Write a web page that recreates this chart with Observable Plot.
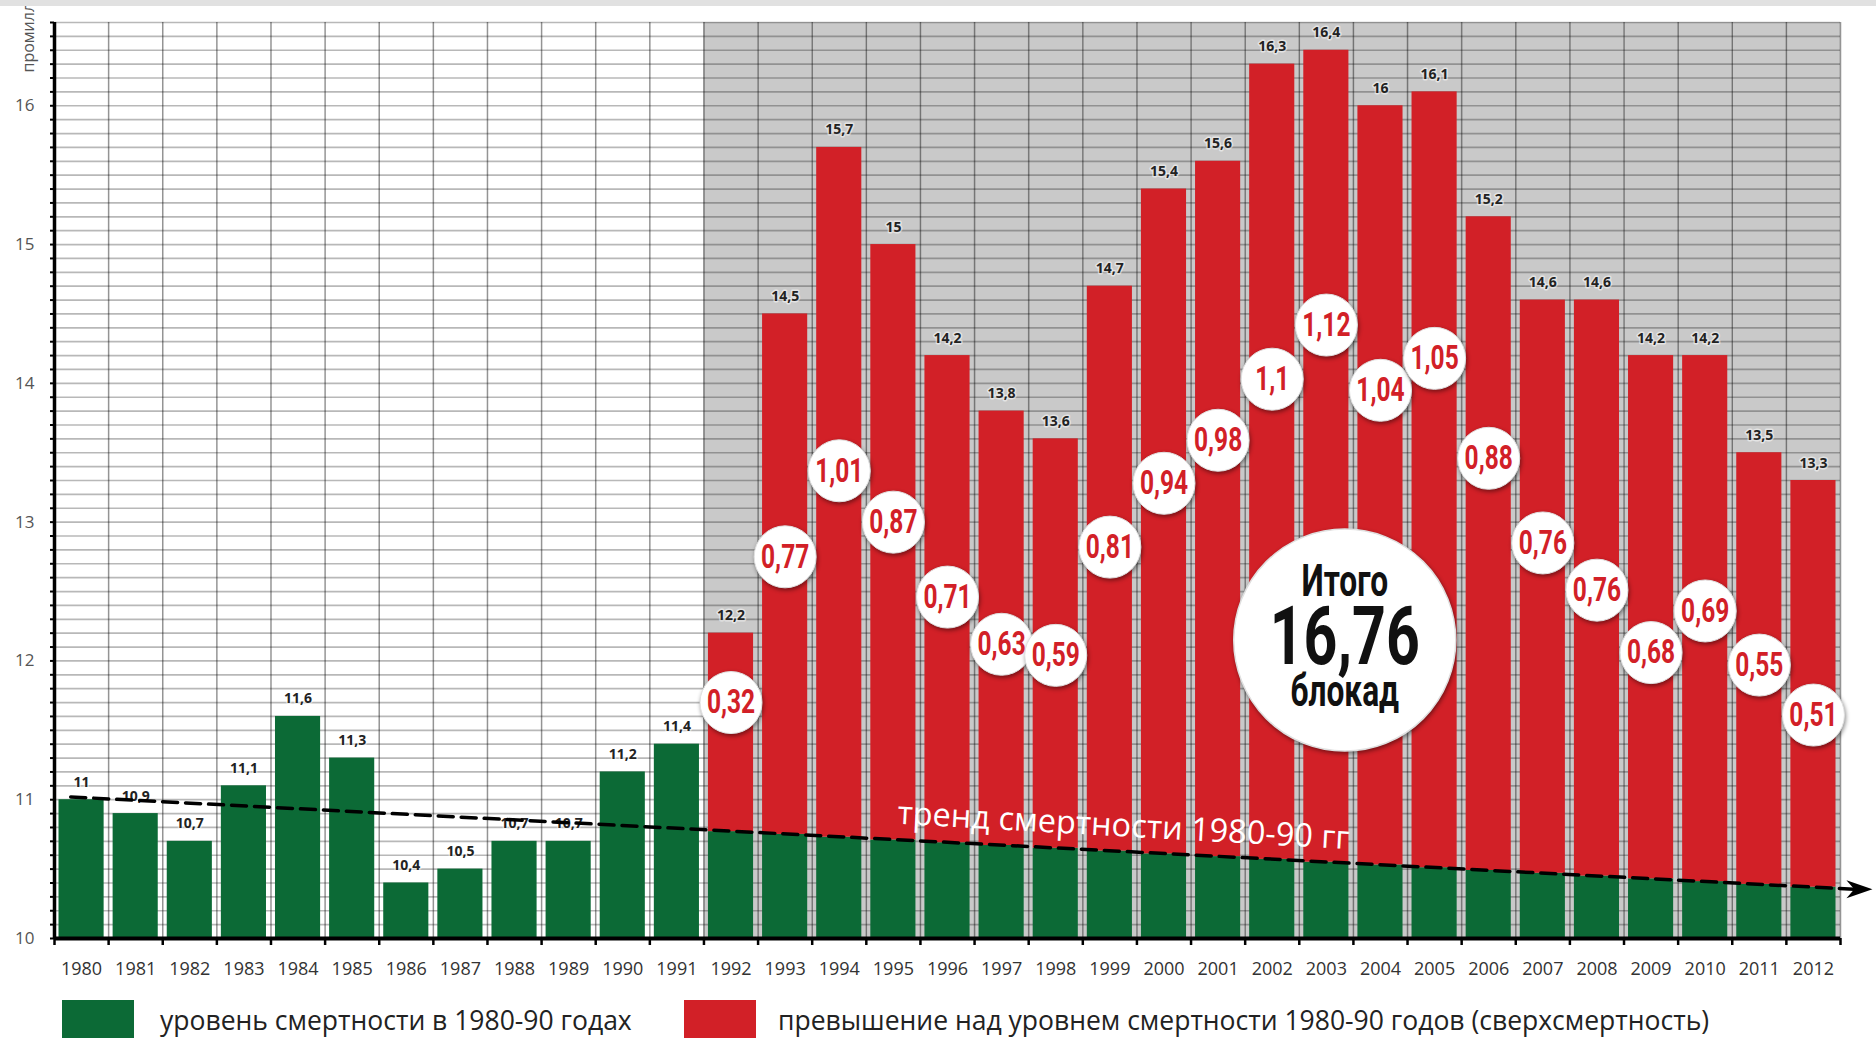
<!DOCTYPE html>
<html>
<head>
<meta charset="utf-8">
<script src="https://cdn.jsdelivr.net/npm/d3@7"></script>
<script src="https://cdn.jsdelivr.net/npm/@observablehq/plot@0.6"></script>
<style>
  html, body { margin: 0; padding: 0; background: #fff; width: 1876px; height: 1038px; overflow: hidden; }
  #topstrip { position: absolute; left: 0; top: 0; width: 1876px; height: 6px; background: #e1e1e1; z-index: 5; }
  #chart { position: absolute; left: 0; top: 6px; }
  g[aria-label="dot"] circle { filter: drop-shadow(1px 2px 2px rgba(0,0,0,0.45)); }
  .legend { position: absolute; font-family: "Open Sans", sans-serif; font-size: 26.5px; color: #222; white-space: nowrap; }
  .sw { position: absolute; width: 72px; height: 44px; }
</style>
</head>
<body>
<div id="topstrip"></div>
<div id="chart"></div>
<div class="sw" style="left:62px; top:1000px; background:#0c6a36;"></div>
<div class="legend" style="left:160px; top:1002px;">уровень смертности в 1980-90 годах</div>
<div class="sw" style="left:684px; top:1000px; background:#d22027;"></div>
<div class="legend" style="left:778px; top:1002px;">превышение над уровнем смертности 1980-90 годов (сверхсмертность)</div>
<script>
// ---- data ----
const years = [1980,1981,1982,1983,1984,1985,1986,1987,1988,1989,1990,1991,1992,1993,1994,1995,1996,1997,1998,1999,2000,2001,2002,2003,2004,2005,2006,2007,2008,2009,2010,2011,2012];
const totals = [11,10.9,10.7,11.1,11.6,11.3,10.4,10.5,10.7,10.7,11.2,11.4,12.2,14.5,15.7,15,14.2,13.8,13.6,14.7,15.4,15.6,16.3,16.4,16,16.1,15.2,14.6,14.6,14.2,14.2,13.5,13.3];
const excessYears = [1992,1993,1994,1995,1996,1997,1998,1999,2000,2001,2002,2003,2004,2005,2006,2007,2008,2009,2010,2011,2012];
const baseline = [10.77,10.75,10.73,10.71,10.69,10.67,10.65,10.63,10.61,10.59,10.57,10.55,10.53,10.51,10.49,10.47,10.45,10.43,10.41,10.39,10.37];
const excess = [0.32,0.77,1.01,0.87,0.71,0.63,0.59,0.81,0.94,0.98,1.1,1.12,1.04,1.05,0.88,0.76,0.76,0.68,0.69,0.55,0.51];
const excessLabelLevel = [11.70,12.75,13.37,13.00,12.46,12.12,12.04,12.82,13.28,13.59,14.03,14.42,13.95,14.18,13.46,12.85,12.51,12.06,12.36,11.97,11.61];
const trendYears = [1979.8, 2012.75];
const trendValues = [11.02, 10.355];
const trendLabel = "тренд смертности 1980-90 гг";
const totalLabel = ["Итого", "16,76", "блокад"];
const totalPos = {year: 2003.34, value: 12.15};
const yTicks = [10,11,12,13,14,15,16];
const yLabel = "промилле";

// ---- derived tables ----
const fmt = v => String(v).replace(".", ",");
const baseOf = new Map(excessYears.map((y, i) => [y, baseline[i]]));
const data = years.map((y, i) => ({year: y, total: totals[i], base: baseOf.has(y) ? baseOf.get(y) : totals[i]}));
const red = data.filter(d => baseOf.has(d.year));
const ex = excessYears.map((y, i) => ({year: y, value: excess[i], level: excessLabelLevel[i]}));
const trend = trendYears.map((y, i) => ({year: y, value: trendValues[i]}));
const boundaries = years.map(y => y - 0.5).concat([years[years.length - 1] + 0.5]);
const minor = d3.range(100, 167).map(v => v / 10);

const GREEN = "#0c6a36", RED = "#d22027";
const COND = "Roboto, sans-serif";

const arrowHead = {
  draw(ctx, size) {
    const r = Math.sqrt(size / Math.PI);
    ctx.moveTo(r, 0);
    ctx.lineTo(-r, -0.7 * r);
    ctx.lineTo(-0.4 * r, 0);
    ctx.lineTo(-r, 0.7 * r);
    ctx.closePath();
  }
};

const chart = Plot.plot({
  width: 1876,
  height: 984,
  marginTop: 16,
  marginLeft: 54,
  marginRight: 36,
  marginBottom: 52,
  style: {fontFamily: "'Open Sans', sans-serif", fontSize: "16px", background: "transparent", overflow: "visible"},
  x: {domain: [1979.5, 2012.5], axis: null, label: null},
  y: {domain: [10, 16.6], axis: null, label: null},
  marks: [
    Plot.rect(red, {x1: d => d.year - 0.5, x2: d => d.year + 0.5, y1: 10, y2: 16.6, fill: "#c9c9c9"}),
    Plot.ruleY(minor, {stroke: "#000", strokeOpacity: 0.28, strokeWidth: 1.7}),
    Plot.ruleX(boundaries, {stroke: "#000", strokeOpacity: 0.42, strokeWidth: 1.5}),
    Plot.rect(data, {x1: d => d.year - 0.5, x2: d => d.year + 0.5, y1: 10, y2: "base", insetLeft: 4.5, insetRight: 4.5, fill: GREEN}),
    Plot.rect(red, {x1: d => d.year - 0.5, x2: d => d.year + 0.5, y1: "base", y2: "total", insetLeft: 4.5, insetRight: 4.5, fill: RED}),
    Plot.text(data, {x: "year", y: "total", text: d => fmt(d.total), dy: -13, lineAnchor: "bottom", fontSize: 14, fontWeight: "bold", fill: "#222", stroke: "#fff", strokeOpacity: 0.5, strokeWidth: 3, paintOrder: "stroke"}),
    Plot.ruleY([10], {stroke: "#000", strokeWidth: 4}),
    Plot.ruleX([1979.5], {stroke: "#000", strokeWidth: 3.5}),
    Plot.axisY({ticks: minor, tickSize: 4, tickFormat: () => "", stroke: "#000", strokeWidth: 2, label: null}),
    Plot.axisY({ticks: yTicks, tickSize: 0, tickPadding: 20, tickFormat: d => String(d), fontSize: 17, fill: "#555", label: null}),
    Plot.axisX({ticks: boundaries, tickSize: 7, tickFormat: () => "", stroke: "#000", strokeWidth: 2.5, label: null}),
    Plot.axisX({ticks: years, tickSize: 0, tickPadding: 24, tickFormat: d => String(d), fontSize: 18, fill: "#333", label: null}),
    Plot.text([yLabel], {frameAnchor: "top-left", dx: -32, dy: 50, rotate: -90, textAnchor: "start", fontSize: 16, fill: "#555"}),
    Plot.line(trend, {x: "year", y: "value", stroke: "#000", strokeWidth: 3.5, strokeDasharray: "15 8"}),
    Plot.dot([trend[trend.length - 1]], {x: d => d.year + 0.1, y: "value", symbol: arrowHead, r: 13, fill: "#000", stroke: "none"}),
    Plot.text([trendLabel], {x: 1999.25, y: 10.81, rotate: 3.2, fontSize: 32.5, fill: "#fff", fontFamily: "'Open Sans', sans-serif"}),
    Plot.dot(ex, {x: "year", y: "level", r: 31, fill: "#fff", stroke: "#e0e0e0", strokeWidth: 1}),
    Plot.text(ex, {x: "year", y: "level", text: d => fmt(d.value), fontSize: 34, fontWeight: "bold", fill: RED, fontFamily: COND}),
    Plot.dot([totalPos], {x: "year", y: "value", r: 111, fill: "#fff", stroke: "#e0e0e0"}),
    Plot.text([totalPos], {x: "year", y: "value", text: () => totalLabel[0], dy: -58, fontSize: 44, fontWeight: "bold", fill: "#111", fontFamily: COND}),
    Plot.text([totalPos], {x: "year", y: "value", text: () => totalLabel[1], dy: -2, fontSize: 82, fontWeight: "bold", fill: "#111", fontFamily: COND}),
    Plot.text([totalPos], {x: "year", y: "value", text: () => totalLabel[2], dy: 52, fontSize: 44, fontWeight: "bold", fill: "#111", fontFamily: COND})
  ]
});
document.getElementById("chart").appendChild(chart);

// condense the circle texts horizontally (the reference uses a condensed face)
d3.select(chart).selectAll('g[font-family^="Roboto"] text').each(function() {
  const w = this.getComputedTextLength();
  if (w > 0) {
    this.setAttribute("textLength", (w * 0.72).toFixed(1));
    this.setAttribute("lengthAdjust", "spacingAndGlyphs");
  }
});
</script>
</body>
</html>
